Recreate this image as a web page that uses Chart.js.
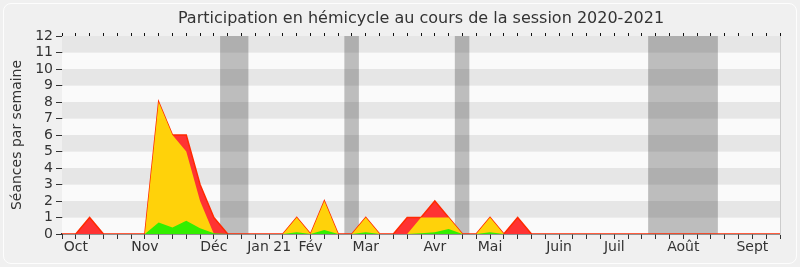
<!DOCTYPE html>
<html>
<head>
<meta charset="utf-8">
<script src="https://cdn.jsdelivr.net/npm/chart.js@4/dist/chart.umd.min.js"></script>
<style>
  html, body { margin: 0; padding: 0; background: #f0f0f0; }
  #cadre { position: absolute; left: 3px; top: 3px; width: 792px; height: 259px;
           border: 1px solid #fdfdfd; border-radius: 8px; }
  #wrap { position: relative; width: 800px; height: 267px; }
</style>
</head>
<body>
<div id="wrap">
  <div id="cadre"></div>
  <canvas id="chartParticipation" width="800" height="267"></canvas>
</div>
<script>
// ====================== DONNÉES ======================
// une valeur par semaine, session oct. 2020 -> sept. 2021 (53 semaines)
const semaines = Array.from({ length: 53 }, (_, i) => i);

const moisNoms    = ["Oct", "Nov", "Déc", "Jan 21", "Fév", "Mar", "Avr", "Mai", "Juin", "Juil", "Août", "Sept"];
const moisSemaine = [1, 6, 11, 15, 18, 22, 27, 31, 36, 40, 45, 50];

// rouge : présences relevées
const presences = [0,0,1,0,0,0,0,8,6,6,3,1,0,0,0,0,0,1,0,2,0,0,1,0,0,1,1,2,1,0,0,1,0,1,0,0,0,0,0,0,0,0,0,0,0,0,0,0,0,0,0,0,0];
// jaune : présences en hémicycle
const hemicycle = [0,0,0,0,0,0,0,8,6,5,2,0,0,0,0,0,0,1,0,2,0,0,1,0,0,0,1,1,1,0,0,1,0,0,0,0,0,0,0,0,0,0,0,0,0,0,0,0,0,0,0,0,0];
// vert : interventions
const interventions = [0,0,0,0,0,0,0,0.7,0.4,0.8,0.35,0.05,0,0,0,0,0,0.1,0,0.25,0,0,0.1,0,0,0,0.05,0.1,0.3,0,0,0.1,0,0,0,0,0,0,0,0,0,0,0,0,0,0,0,0,0,0,0,0,0];

// vacances parlementaires (en semaines)
const vacancesDebut = [11.45, 20.45, 28.45, 42.45];
const vacancesFin   = [13.5, 21.5, 29.5, 47.5];

const yMax = 12;

// ====================== PLUGINS ======================
const fondBandes = {
    id: "fondBandes",
    beforeDatasetsDraw(chart) {
        const { ctx, chartArea, scales } = chart;
        const y = scales.y, x = scales.x;
        ctx.save();
        for (let k = 0; k < yMax; k++) {
            const y0 = y.getPixelForValue(k);
            const y1 = y.getPixelForValue(k + 1);
            ctx.fillStyle = (k % 2 === 1) ? "#e6e6e6" : "#fafafa";
            ctx.fillRect(chartArea.left, y1, chartArea.right - chartArea.left, y0 - y1);
        }
        // vacances
        ctx.fillStyle = "rgba(50,50,50,0.3)";
        vacancesDebut.forEach((d, i) => {
            const x0 = x.getPixelForValue(d);
            const x1 = x.getPixelForValue(vacancesFin[i]);
            ctx.fillRect(x0, chartArea.top, x1 - x0, chartArea.bottom - chartArea.top);
        });
        ctx.restore();
    }
};

// ====================== GRAPHIQUE ======================
const etiquettes = semaines.map(s => {
    const idx = moisSemaine.indexOf(s);
    return idx >= 0 ? moisNoms[idx] : "";
});

Chart.defaults.font.family = "'DejaVu Sans', sans-serif";
Chart.defaults.color = "#333";

const ctx = document.getElementById("chartParticipation").getContext("2d");
new Chart(ctx, {
    type: "line",
    data: {
        labels: etiquettes,
        datasets: [
            {
                label: "Interventions",
                data: interventions,
                borderWidth: 0,
                borderColor: "#33ee00",
                backgroundColor: "#33ee00",
                fill: "origin",
                pointRadius: 0,
                tension: 0
            },
            {
                label: "Hémicycle",
                data: hemicycle,
                borderWidth: 0,
                borderColor: "#ffd20a",
                backgroundColor: "#ffd20a",
                fill: "origin",
                pointRadius: 0,
                tension: 0
            },
            {
                label: "Présences",
                data: presences,
                borderWidth: 1.5,
                borderColor: "#ff2a00",
                backgroundColor: "#ff3333",
                fill: "origin",
                pointRadius: 0,
                tension: 0
            }
        ]
    },
    options: {
        responsive: false,
        animation: false,
        layout: { padding: { left: 0, right: 20, top: 0, bottom: 0 } },
        plugins: {
            legend: { display: false },
            tooltip: { enabled: false },
            title: {
                display: true,
                text: "Participation en hémicycle au cours de la session 2020-2021",
                fullSize: false,
                color: "#333",
                font: { size: 16, weight: "normal" },
                padding: { top: 9, bottom: 4.8 }
            }
        },
        scales: {
            x: {
                type: "category",
                position: "bottom",
                offset: false,
                grid: { drawOnChartArea: false, tickLength: 5, color: "#333", offset: false },
                border: { color: "#333", width: 1.5 },
                ticks: { autoSkip: false, maxRotation: 0, padding: 0, font: { size: 14 }, color: "#333" },
                afterFit: s => { s.height = 33; }
            },
            xHaut: {
                type: "category",
                position: "top",
                offset: false,
                grid: { drawOnChartArea: false, tickLength: 3, color: "#111", offset: false },
                border: { display: false },
                ticks: { display: false, autoSkip: false },
                afterFit: s => { s.height = 3; }
            },
            y: {
                min: 0,
                max: yMax,
                grid: { drawOnChartArea: false, tickLength: 6, color: "#333" },
                border: { color: "#333", width: 1 },
                ticks: { stepSize: 1, autoSkip: false, padding: 3, font: { size: 14 }, color: "#333" },
                title: {
                    display: true,
                    text: "Séances par semaine",
                    font: { size: 14 },
                    color: "#333",
                    padding: { top: 9, bottom: 0 }
                },
                afterFit: s => { s.width = 62; }
            },
            yDroite: {
                position: "right",
                min: 0,
                max: yMax,
                grid: { drawOnChartArea: false, drawTicks: false },
                border: { color: "#cccccc", width: 1 },
                ticks: { display: false },
                afterFit: s => { s.width = 0; }
            }
        }
    },
    plugins: [fondBandes]
});
</script>
</body>
</html>
